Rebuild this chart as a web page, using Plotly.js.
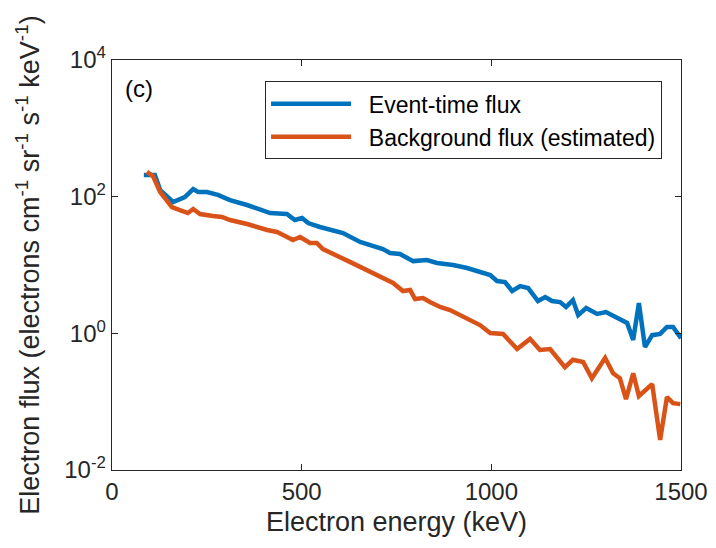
<!DOCTYPE html>
<html>
<head>
<meta charset="utf-8">
<script src="https://cdn.plot.ly/plotly-3.0.1.min.js"></script>
<style>html,body{margin:0;padding:0;background:#fff;}#chart{width:716px;height:548px;}</style>
</head>
<body>
<div id="chart"></div>
<script>
// Event-time flux (blue)
const eventEnergy = [84,113,127,161,192,214,227,250,279,311,356,385,417,461,482,501,517,548,593,609,654,699,714,733,759,794,830,857,899,936,978,997,1015,1036,1055,1076,1097,1123,1142,1160,1181,1197,1215,1229,1250,1279,1302,1331,1358,1374,1389,1405,1424,1445,1463,1479,1500];
const eventFlux = [207,207,125,83.5,98.8,129,117,117,106,89,75.5,65.9,57.6,55.7,45.5,48.7,41.1,36,30.4,29.4,21.7,17.7,17.1,15,14.5,11.4,11.8,10.7,10,9.03,7.63,7.13,5.83,5.63,4.16,4.92,4.6,2.97,3.4,2.97,2.87,2.43,3.07,1.85,2.35,1.92,2.05,1.67,1.42,0.80,2.78,0.63,0.94,0.98,1.24,1.24,0.85];
// Background flux (estimated) (orange)
const bgEnergy = [92,108,127,158,179,200,214,232,266,290,311,356,409,435,451,477,496,522,540,556,627,672,714,741,767,786,799,820,838,865,891,917,944,970,997,1031,1068,1102,1128,1155,1194,1215,1242,1265,1300,1321,1339,1355,1374,1389,1424,1445,1463,1479,1498];
const bgFlux = [230,200,117,70.5,63.7,57.6,65.9,55.7,52.1,50.4,45.5,39.8,32.5,30.4,27.5,23.2,25.7,21,21,17.1,11.1,8.44,6.45,5.45,4.16,4.3,3.18,3.29,2.87,2.43,2.19,1.85,1.57,1.32,1.01,0.98,0.59,0.83,0.57,0.59,0.32,0.41,0.38,0.22,0.435,0.26,0.22,0.109,0.26,0.121,0.181,0.0275,0.117,0.095,0.092];
const seriesNames = ["Event-time flux", "Background flux (estimated)"];
const xTickVals = [0,500,1000,1500];
const yTickVals = [0.01,1,100,10000];
const yTickText = ["10<sup>-2</sup>","10<sup>0</sup>","10<sup>2</sup>","10<sup>4</sup>"];

const font = "Liberation Sans, Arial, sans-serif";
const axisColor = "#262626";
const traces = [
  {x: eventEnergy, y: eventFlux, name: "\u00a0\u00a0" + seriesNames[0], type: "scatter", mode: "lines",
   line: {color: "#0072BD", width: 4.5}},
  {x: bgEnergy, y: bgFlux, name: "\u00a0\u00a0" + seriesNames[1], type: "scatter", mode: "lines",
   line: {color: "#D95319", width: 4.5}}
];
const layout = {
  width: 716, height: 548,
  margin: {l: 112, r: 35, t: 60, b: 78, pad: 0},
  paper_bgcolor: "#fff", plot_bgcolor: "#fff",
  font: {family: font, color: axisColor, size: 24},
  showlegend: true,
  legend: {x: 0.269, y: 0.948, xanchor: "left", yanchor: "top",
    bordercolor: axisColor, borderwidth: 1, bgcolor: "#fff",
    font: {family: font, size: 23, color: "#000"}, itemwidth: 80},
  xaxis: {range: [0,1500], tickvals: xTickVals, ticks: "inside", ticklen: 6,
    tickcolor: axisColor, showline: true, linecolor: axisColor, linewidth: 1.3,
    mirror: "ticks", showgrid: false, zeroline: false,
    tickfont: {size: 24, color: axisColor},
    title: {text: "Electron energy (keV)", font: {size: 27, color: axisColor}, standoff: 8}},
  yaxis: {type: "log", range: [-2,4], tickvals: yTickVals, ticktext: yTickText,
    ticks: "inside", ticklen: 6, tickcolor: axisColor, showline: true,
    linecolor: axisColor, linewidth: 1.3, mirror: "ticks", showgrid: false, zeroline: false,
    tickfont: {size: 24, color: axisColor},
    title: {text: "Electron flux (electrons cm<sup>-1</sup> sr<sup>-1</sup> s<sup>-1</sup> keV<sup>-1</sup>)",
      font: {size: 27, color: axisColor}, standoff: 16}},
  annotations: [
    {text: "(c)", xref: "paper", yref: "paper", x: 0.02, y: 0.93, xanchor: "left", yanchor: "middle",
     showarrow: false, font: {size: 24, color: "#000"}}
  ]
};
Plotly.newPlot("chart", traces, layout, {displayModeBar: false, staticPlot: true});
</script>
</body>
</html>
